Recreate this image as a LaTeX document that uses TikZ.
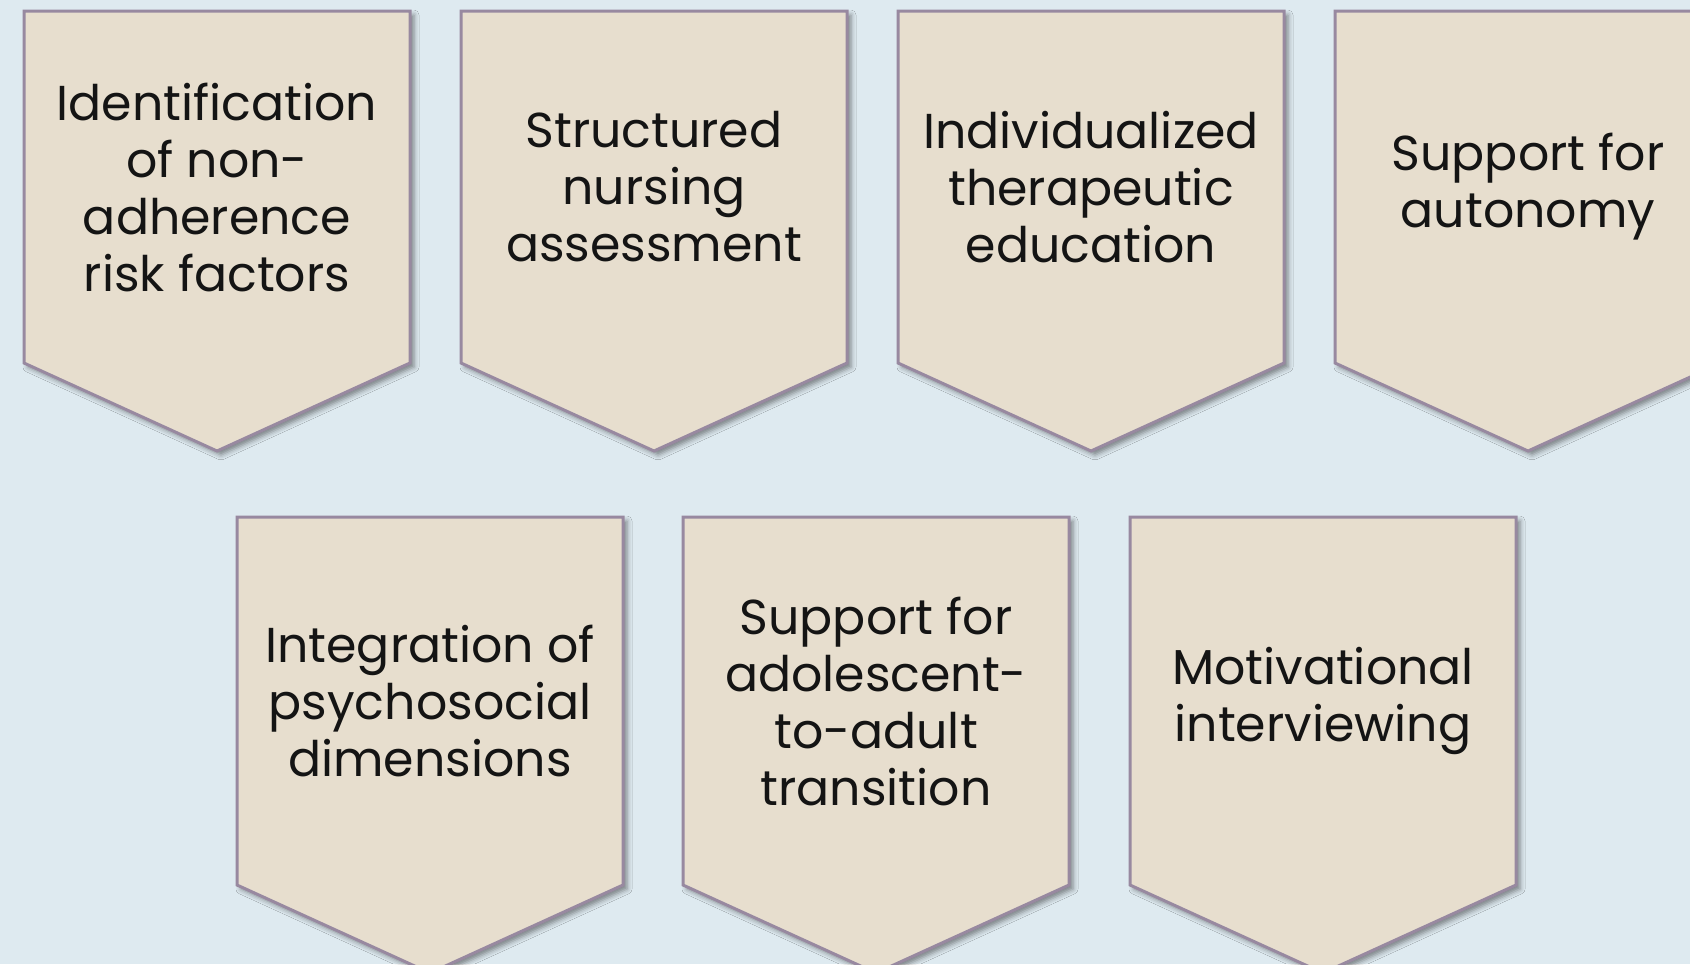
\documentclass[tikz,border=0pt]{standalone}
\usepackage{fontspec}
\setmainfont{Poppins}
\usetikzlibrary{positioning, backgrounds, shadows.blur}
\definecolor{pagebg}{RGB}{222,234,240}
\definecolor{panelfill}{RGB}{231,222,206}
\definecolor{paneledge}{RGB}{152,137,160}
\tikzset{
  panel/.style={rectangle, minimum width=193pt, minimum height=176pt,
    inner sep=0pt, outer sep=0pt, align=center, text=black!92,
    font=\fontsize{24.5}{28.5}\selectfont},
  tall/.style={minimum height=184pt},
  chevron/.style={fill=panelfill, draw=paneledge, line width=1.5pt,
    blur shadow={shadow xshift=2pt, shadow yshift=-2pt,
      shadow blur radius=2.5pt, shadow opacity=45}},
}

\begin{document}
\begin{tikzpicture}[x=0.5pt, y=0.5pt]
  \useasboundingbox (0,0) rectangle (1690,-964);
  % upper row
  \node[panel] (p1) at (217,-187) {Identification\\of non-\\adherence\\risk factors};
  \node[panel, right=25.5pt of p1] (p2) {Structured\\nursing\\assessment};
  \node[panel, right=25.5pt of p2] (p3) {Individualized\\therapeutic\\education};
  \node[panel, right=25.5pt of p3] (p4) {Support for\\autonomy};
  % lower row
  \node[panel, tall] (p5) at (430,-701) {Integration of\\psychosocial\\dimensions};
  \node[panel, tall, right=30pt of p5] (p6) {Support for\\adolescent-\\to-adult\\transition};
  \node[panel, tall, right=30.5pt of p6] (p7) {Motivational\\interviewing};
  % pointed panels behind the text
  \begin{scope}[on background layer]
    \fill[pagebg] (0,0) rectangle (1690,-964);
    \foreach \n in {p1,p2,p3,p4,p5,p6,p7}
      \draw[chevron] (\n.north west) -- (\n.north east) -- (\n.south east)
        -- ([yshift=-44pt]\n.south) -- (\n.south west) -- cycle;
  \end{scope}
\end{tikzpicture}
\end{document}
